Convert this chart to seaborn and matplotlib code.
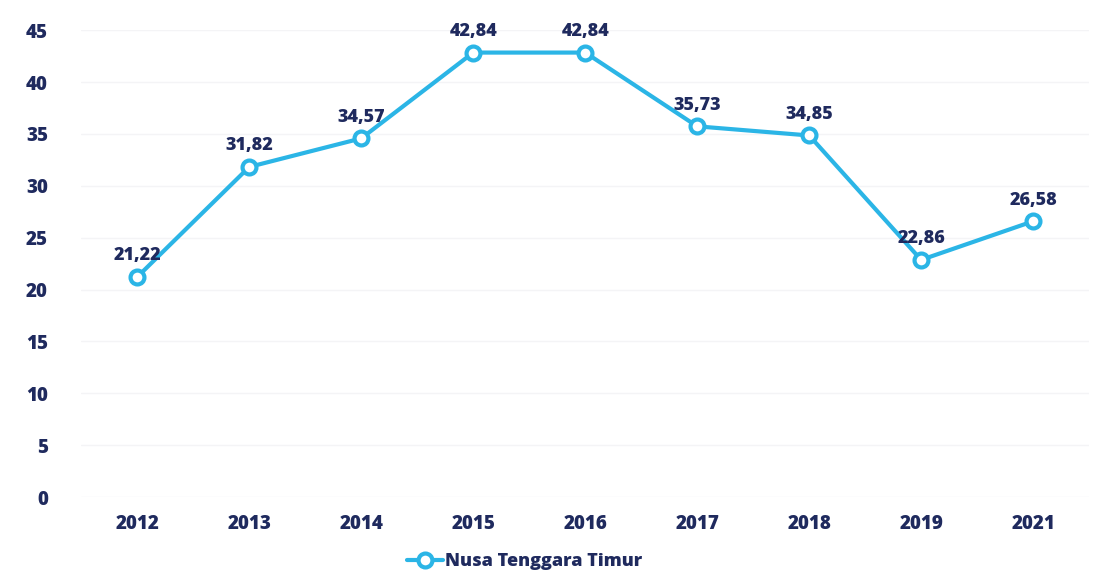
import matplotlib
matplotlib.use("Agg")
import matplotlib.pyplot as plt
import seaborn as sns
import pandas as pd

years = ["2012", "2013", "2014", "2015", "2016", "2017", "2018", "2019", "2021"]
values = [21.22, 31.82, 34.57, 42.84, 42.84, 35.73, 34.85, 22.86, 26.58]
labels = ["21,22", "31,82", "34,57", "42,84", "42,84", "35,73", "34,85", "22,86", "26,58"]
series_name = "Nusa Tenggara Timur"

df = pd.DataFrame({"Year": years, "Value": values, "Series": series_name})

sns.set_style("white")
plt.rcParams["font.family"] = ["Open Sans", "DejaVu Sans"]

line_color = "#2bb5e6"
text_color = "#1f2a5e"

fig = plt.figure(figsize=(10.99, 5.80), dpi=100)
ax = fig.add_axes([0.074, 0.143, 0.917, 0.805])

sns.lineplot(data=df, x="Year", y="Value", hue="Series", palette=[line_color],
             linewidth=3, marker="o", markersize=10, markerfacecolor="white",
             markeredgecolor=line_color, markeredgewidth=3, sort=False, ax=ax)

for i, (v, lab) in enumerate(zip(values, labels)):
    ax.annotate(lab, (i, v), xytext=(0, 9), textcoords="offset points",
                ha="center", va="bottom", fontsize=13, fontweight="heavy",
                color=text_color)

ax.set_ylim(0, 45)
ax.set_xlim(-0.5, len(years) - 0.5)
ax.set_yticks(range(0, 46, 5))
ax.grid(axis="y", color="#f4f4f6", linewidth=1)
for s in ax.spines.values():
    s.set_visible(False)
ax.tick_params(axis="y", length=0, pad=24)
ax.tick_params(axis="x", length=0, pad=12)
ax.set_xlabel("")
ax.set_ylabel("")
for t in ax.get_xticklabels() + ax.get_yticklabels():
    t.set_fontweight("heavy")
    t.set_fontsize(13.5)
    t.set_color(text_color)

leg = ax.legend(loc="upper center", bbox_to_anchor=(0.44, -0.085), frameon=False,
                handlelength=2, handletextpad=0.1, prop={"weight": "heavy", "size": 13})
for t in leg.get_texts():
    t.set_color(text_color)

fig.savefig("out.png", dpi=100, facecolor="white")
